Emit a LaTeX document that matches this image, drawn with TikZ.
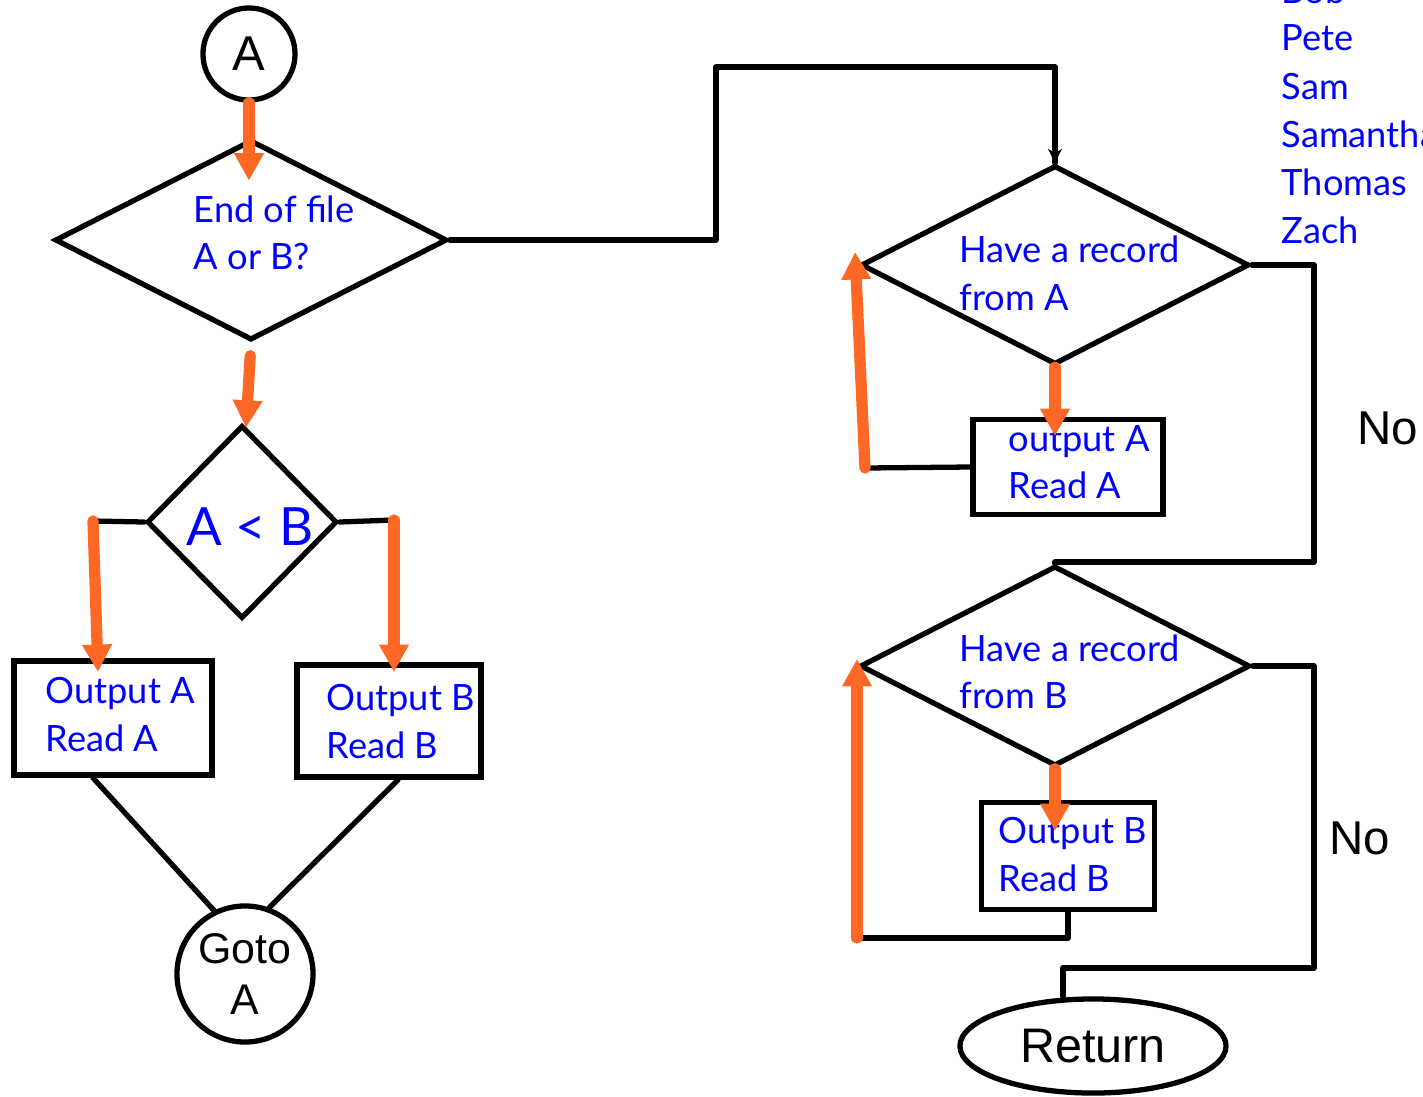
\documentclass[tikz,border=0pt]{standalone}
\usepackage{fontspec}
\setmainfont{Liberation Sans}
\newfontfamily\handfont{Lato}
\usepackage{xcolor}
\usepackage{tikz}
\usetikzlibrary{arrows.meta,positioning,shapes,shapes.geometric,calc}
\definecolor{flowor}{RGB}{255,104,36}
\definecolor{handblue}{RGB}{0,0,255}
\tikzset{
  decision/.style 2 args={draw,shape=diamond,line width=1.5pt,inner sep=0pt,minimum width=#1,minimum height=#2},
  process/.style 2 args={draw,rectangle,line width=1.6pt,inner sep=0pt,minimum width=#1,minimum height=#2},
  term/.style={draw,circle,line width=1.5pt,inner sep=0pt,minimum size=#1},
  hand/.style={text=handblue,font=\handfont\fontsize{10.3}{12}\selectfont,anchor=base west,inner sep=0pt},
  plain/.style={black,inner sep=0pt,font=\fontsize{13.5}{16}\selectfont},
  link/.style={draw=black,line width=1.5pt,line cap=round,line join=round},
  flow/.style={draw=flowor,line width=3.2pt,line cap=round,-{Triangle[width=8pt,length=7.8pt]}}
}

\begin{document}
\begin{tikzpicture}[x=0.01cm,y=-0.01cm]
        \useasboundingbox (0,0) rectangle (1423,1096);

        \node [term=0.92cm,font=\fontsize{13.9}{16}\selectfont] (a) at (249,54) {A};
        \node [decision={3.92cm}{2cm}] (eof) at (251,240) {};
        \node [hand] (eof1) at (193,222) {End of file};
        \node [hand] (eof2) at (193,269) {A or B?};

        \node [decision={1.9cm}{1.93cm}] (lt) at (242,522) {};
        \node [hand,anchor=center,font=\handfont\fontsize{15}{18}\selectfont] (ltt) at (250,527) {A < B};

        \node [process={1.98cm}{1.14cm}] (outa) at (113,718) {};
        \node [hand] (outa1) at (45,703) {Output A};
        \node [hand] (outa2) at (45,751) {Read A};
        \node [process={1.84cm}{1.12cm}] (outb) at (389,721) {};
        \node [hand] (outb1) at (326,710) {Output B};
        \node [hand] (outb2) at (326,758) {Read B};

        \node [term=1.36cm,align=center,font=\fontsize{12.2}{14.5}\selectfont] (goto) at (245,974) {Goto\\A};

        \node [decision={3.88cm}{1.99cm}] (hasa) at (1055,265) {};
        \node [hand] (hasa1) at (959,262) {Have a record};
        \node [hand] (hasa2) at (959,310) {from A};
        \node [process={1.9cm}{0.95cm}] (reada) at (1068,467) {};
        \node [hand] (reada1) at (1008,451) {output A};
        \node [hand] (reada2) at (1008,498) {Read A};

        \node [decision={3.9cm}{2cm}] (hasb) at (1055,666) {};
        \node [hand] (hasb1) at (959,661) {Have a record};
        \node [hand] (hasb2) at (959,708) {from B};
        \node [process={1.73cm}{1.07cm}] (readb) at (1068,856) {};
        \node [hand] (readb1) at (998,843) {Output B};
        \node [hand] (readb2) at (998,891) {Read B};

        \node [draw,ellipse,line width=1.5pt,inner sep=0pt,minimum width=2.66cm,minimum height=0.94cm,font=\fontsize{13.8}{16}\selectfont] (ret) at (1093,1046) {Return};

        \node [plain] (noa) at (1388,428) {No};
        \node [plain] (nob) at (1360,838) {No};

        \node [hand] (bob) at (1281,3) {Bob};
        \node [hand] (pete) at (1281,50) {Pete};
        \node [hand] (sam) at (1281,99) {Sam};
        \node [hand] (samantha) at (1281,147) {Samantha};
        \node [hand] (thomas) at (1281,195) {Thomas};
        \node [hand] (zach) at (1281,243) {Zach};

        \coordinate (up) at (716,67);
        \coordinate (ltl) at (93,521);
        \coordinate (ltr) at (394,520);
        \coordinate (loopa) at (865,468);
        \coordinate (nocornera) at (1314,562);
        \coordinate (loopb) at (1068,938);
        \coordinate (loopbl) at (857,938);
        \coordinate (nocornerb) at (1314,968);
        \coordinate (retin) at (1063,968);

        \draw [link] (eof.east) -| (up) -| (hasa.north);
        \draw [-{Stealth[length=4pt,width=4pt]},line width=1.5pt] ($(hasa.north)+(0,-12)$) -- (hasa.north);
        \draw [link] (lt.west) -- (ltl);
        \draw [link] (lt.east) -- (ltr);
        \draw [link] (ltl |- outa.south) -- (goto.116);
        \draw [link] (outb.south -| 398,0) -- (goto.70);
        \draw [link] (reada.west) -- (loopa);
        \draw [link] (hasa.east) -| (nocornera) -| (hasb.north);
        \draw [link] (readb.south) -- (loopb) -- (loopbl);
        \draw [link] (hasb.east) -| (nocornerb) -- (retin) -- (retin |- ret.north);

        \draw [flow] (a.south) -- ($(a.south)+(0,78)$);
        \draw [flow,shorten <=0.13cm] (eof.south) -- ($(eof.south)+(-5,85)$);
        \draw [flow] (ltl) -- (98,672);
        \draw [flow] (ltr) -- (394,672);
        \draw [flow] (hasa.south) -- (hasa.south |- 0,436);
        \draw [flow] (loopa) -- (855,252);
        \draw [flow] (hasb.south) -- (hasb.south |- 0,831);
        \draw [flow] (loopbl) -- (857,659);
\end{tikzpicture}
\end{document}
